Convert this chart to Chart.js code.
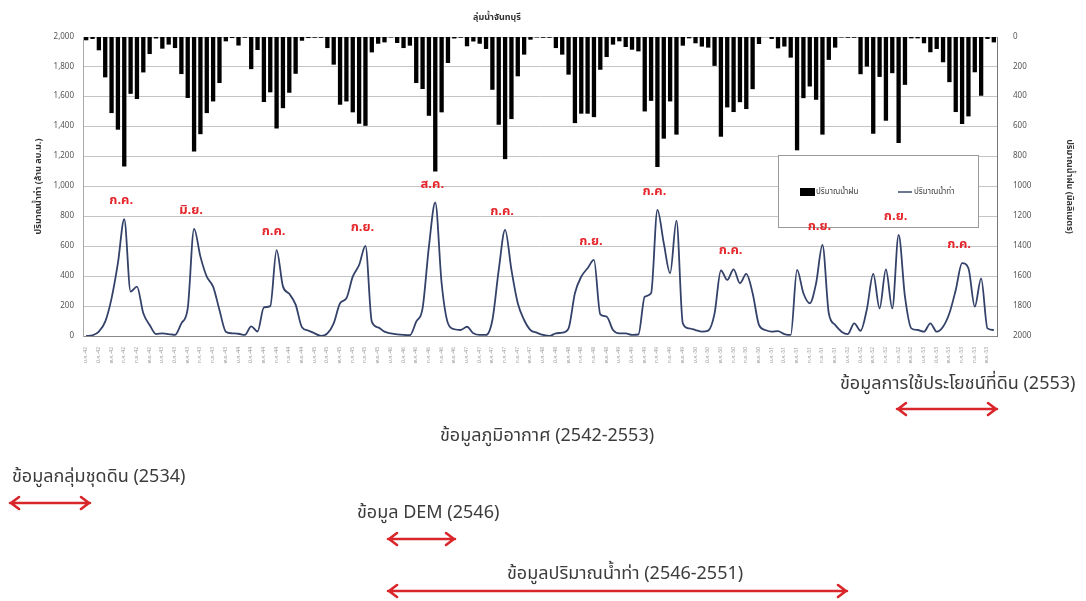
<!DOCTYPE html>
<html>
<head>
<meta charset="utf-8">
<script src="https://cdn.jsdelivr.net/npm/chart.js@4.4.1/dist/chart.umd.min.js"></script>
<style>
  html, body { margin: 0; padding: 0; background: #fff; }
  #wrap { position: relative; width: 1086px; height: 601px; overflow: hidden; }
  #chart { position: absolute; left: 0; top: 0; }
  #arrows { position: absolute; left: 0; top: 0; }
  .note {
    position: absolute;
    font-family: Tahoma, "Noto Sans Thai", "Noto Sans", sans-serif;
    font-size: 18px;
    color: #3c3c3c;
    white-space: nowrap;
    transform: translateY(-50%);
  }
</style>
</head>
<body>
<div id="wrap">
  <canvas id="chart" width="1086" height="601"></canvas>
  <svg id="arrows" width="1086" height="601"></svg>
</div>
<script>
const THAI_FONT = 'Tahoma, "Noto Sans Thai", "Noto Sans", sans-serif';

const MONTHS = ["ม.ค.", "ก.พ.", "มี.ค.", "เม.ย.", "พ.ค.", "มิ.ย.", "ก.ค.", "ส.ค.", "ก.ย.", "ต.ค.", "พ.ย.", "ธ.ค."];
const YEARS = [42, 43, 44, 45, 46, 47, 48, 49, 50, 51, 52, 53];

// ปริมาณน้ำฝน (มม.) รายเดือน ม.ค.-ธ.ค. แต่ละปี
const rainfall = [
  22, 13, 89, 270, 509, 620, 866, 380, 415, 237, 114, 10,     // 2542
  78, 51, 74, 248, 408, 766, 650, 509, 431, 308, 29, 7,       // 2543
  57, 5, 215, 87, 435, 370, 612, 476, 373, 246, 25, 7,        // 2544
  5, 5, 74, 185, 453, 431, 504, 580, 594, 103, 45, 36,        // 2545
  3, 40, 74, 58, 308, 348, 527, 900, 504, 174, 10, 5,         // 2546
  62, 30, 45, 80, 353, 587, 817, 549, 263, 118, 18, 3,        // 2547
  5, 5, 74, 118, 252, 576, 513, 513, 536, 219, 134, 51,       // 2548
  29, 67, 85, 96, 498, 427, 870, 680, 431, 653, 58, 9,        // 2549
  42, 64, 71, 193, 667, 471, 502, 436, 482, 349, 47, 0,       // 2550
  13, 76, 64, 138, 758, 409, 331, 420, 653, 153, 71, 3,       // 2551
  5, 5, 249, 198, 647, 267, 560, 242, 709, 320, 9, 9,         // 2552
  42, 102, 80, 169, 302, 502, 582, 531, 236, 393, 13, 36,     // 2553
];

// ปริมาณน้ำท่า (ล้าน ลบ.ม.) รายเดือน
const runoff = [
  0, 5, 30, 96, 252, 487, 781, 297, 330, 152, 74, 13,         // 2542
  18, 13, 7, 85, 185, 717, 531, 397, 330, 174, 29, 18,        // 2543
  15, 7, 65, 30, 192, 200, 575, 332, 282, 210, 58, 36,        // 2544
  18, 0, 18, 85, 219, 252, 397, 475, 603, 96, 58, 29,         // 2545
  18, 11, 7, 5, 96, 185, 598, 893, 353, 85, 45, 40,           // 2546
  62, 18, 7, 7, 107, 442, 710, 442, 219, 107, 40, 22,         // 2547
  7, 0, 18, 22, 51, 286, 397, 453, 509, 145, 130, 40,         // 2548
  18, 18, 7, 10, 263, 286, 844, 621, 420, 772, 85, 51,        // 2549
  40, 29, 36, 150, 438, 375, 446, 353, 415, 286, 74, 40,      // 2550
  29, 33, 13, 7, 442, 286, 219, 353, 609, 152, 74, 29,        // 2551
  13, 85, 35, 180, 415, 185, 446, 185, 676, 263, 51, 40,      // 2552
  29, 85, 29, 62, 152, 308, 487, 453, 196, 386, 51, 40,       // 2553
];

// เดือนที่น้ำท่าสูงสุดของแต่ละปี (ลำดับเดือนในชุดข้อมูล)
const peakIndex = [6, 17, 30, 44, 55, 66, 80, 90, 102, 116, 128, 138];

const labels = YEARS.flatMap((y) => MONTHS.map((m) => `${m}-${y}`));

const peakLabels = {
  id: "peakLabels",
  afterDatasetsDraw(chart) {
    const { ctx, scales } = chart;
    ctx.save();
    ctx.fillStyle = "#e5262b";
    ctx.font = `bold 13px ${THAI_FONT}`;
    ctx.textAlign = "center";
    ctx.textBaseline = "bottom";
    for (const i of peakIndex) {
      const x = scales.x.getPixelForValue(i);
      const y = scales.y.getPixelForValue(runoff[i]);
      ctx.fillText(MONTHS[i % 12], x - 3, y - 11);
    }
    ctx.restore();
  },
};

// กรอบคำอธิบายสัญลักษณ์ วาดก่อนเส้นกราฟ
const legendBox = {
  id: "legendBox",
  beforeDatasetsDraw(chart) {
    const { ctx } = chart;
    ctx.save();
    ctx.strokeStyle = "#9a9a9a";
    ctx.lineWidth = 1;
    ctx.fillStyle = "#fff";
    ctx.fillRect(778.5, 155.5, 200, 72);
    ctx.strokeRect(778.5, 155.5, 200, 72);
    ctx.fillStyle = "#000";
    ctx.fillRect(800, 188, 15, 8);
    ctx.strokeStyle = "#3b4a6b";
    ctx.lineWidth = 1.5;
    ctx.beginPath();
    ctx.moveTo(898, 192);
    ctx.lineTo(912, 192);
    ctx.stroke();
    ctx.fillStyle = "#404040";
    ctx.font = `8px ${THAI_FONT}`;
    ctx.textBaseline = "middle";
    ctx.fillText(chart.data.datasets[1].label, 816, 192);
    ctx.fillText(chart.data.datasets[0].label, 914, 192);
    ctx.restore();
  },
};

const topTitle = {
  id: "topTitle",
  afterDraw(chart) {
    const { ctx } = chart;
    ctx.save();
    ctx.fillStyle = "#333";
    ctx.font = `bold 9px ${THAI_FONT}`;
    ctx.textAlign = "center";
    ctx.textBaseline = "middle";
    ctx.fillText("ลุ่มน้ำจันทบุรี", 497, 18);
    ctx.restore();
  },
};

new Chart(document.getElementById("chart"), {
  data: {
    labels,
    datasets: [
      {
        type: "line",
        label: "ปริมาณน้ำท่า",
        data: runoff,
        yAxisID: "y",
        borderColor: "#34426a",
        borderWidth: 1.8,
        pointRadius: 0,
        cubicInterpolationMode: "monotone",
        order: 0,
      },
      {
        type: "bar",
        label: "ปริมาณน้ำฝน",
        data: rainfall,
        yAxisID: "y2",
        backgroundColor: "#000",
        barPercentage: 0.68,
        categoryPercentage: 1,
        order: 1,
      },
    ],
  },
  options: {
    responsive: false,
    animation: false,
    layout: { padding: { left: 30, right: 8, top: 37, bottom: 0 } },
    plugins: { legend: { display: false }, tooltip: { enabled: false } },
    scales: {
      x: {
        grid: { display: false },
        border: { color: "#888" },
        ticks: {
          autoSkip: false,
          minRotation: 90,
          maxRotation: 90,
          color: "#999",
          font: { size: 5, family: THAI_FONT },
          callback: (v, i) => (i % 2 ? "" : labels[i]),
        },
        afterFit: (s) => { s.height = 265; },
      },
      y: {
        position: "left",
        min: 0,
        max: 2000,
        grid: { color: "#c4c4c4", drawTicks: false },
        border: { color: "#aaa" },
        ticks: {
          stepSize: 200,
          padding: 9,
          color: "#555",
          font: { size: 8, family: THAI_FONT },
          callback: (v) => v.toLocaleString("en-US"),
        },
        title: {
          display: true,
          text: "ปริมาณน้ำท่า (ล้าน ลบ.ม.)",
          color: "#333",
          font: { size: 9, weight: "bold", family: THAI_FONT },
        },
        afterFit: (s) => { s.width = 53; },
      },
      y2: {
        position: "right",
        min: 0,
        max: 2000,
        reverse: true,
        grid: { display: false },
        border: { color: "#777" },
        ticks: {
          stepSize: 200,
          padding: 8,
          color: "#555",
          font: { size: 8, family: THAI_FONT },
          callback: (v) => String(v),
        },
        title: {
          display: true,
          text: "ปริมาณน้ำฝน (มิลลิเมตร)",
          color: "#333",
          font: { size: 9, weight: "bold", family: THAI_FONT },
        },
        afterFit: (s) => { s.width = 81; },
      },
    },
  },
  plugins: [peakLabels, legendBox, topTitle],
});

// คำอธิบายช่วงข้อมูลใต้กราฟ
const notes = [
  { text: "ข้อมูลการใช้ประโยชน์ที่ดิน (2553)", x: 840, y: 383 },
  { text: "ข้อมูลภูมิอากาศ (2542-2553)", x: 440, y: 435 },
  { text: "ข้อมูลกลุ่มชุดดิน (2534)", x: 12, y: 476 },
  { text: "ข้อมูล DEM (2546)", x: 357, y: 512 },
  { text: "ข้อมูลปริมาณน้ำท่า (2546-2551)", x: 507, y: 573 },
];
const spans = [
  { x1: 897, x2: 997, y: 409 },
  { x1: 10, x2: 90, y: 503 },
  { x1: 388, x2: 455, y: 539 },
  { x1: 388, x2: 847, y: 591 },
];

const wrap = document.getElementById("wrap");
for (const n of notes) {
  const d = document.createElement("div");
  d.className = "note";
  d.textContent = n.text;
  d.style.left = n.x + "px";
  d.style.top = n.y + "px";
  wrap.append(d);
}

const svg = document.getElementById("arrows");
let paths = "";
for (const a of spans) {
  paths +=
    `<path d="M${a.x1} ${a.y} L${a.x2} ${a.y} M${a.x1 + 9} ${a.y - 6} L${a.x1 + 1} ${a.y} L${a.x1 + 9} ${a.y + 6} ` +
    `M${a.x2 - 9} ${a.y - 6} L${a.x2 - 1} ${a.y} L${a.x2 - 9} ${a.y + 6}" ` +
    `stroke="#d8262b" stroke-width="2.6" fill="none" stroke-linecap="round" stroke-linejoin="round"/>`;
}
svg.innerHTML = paths;
</script>
</body>
</html>
